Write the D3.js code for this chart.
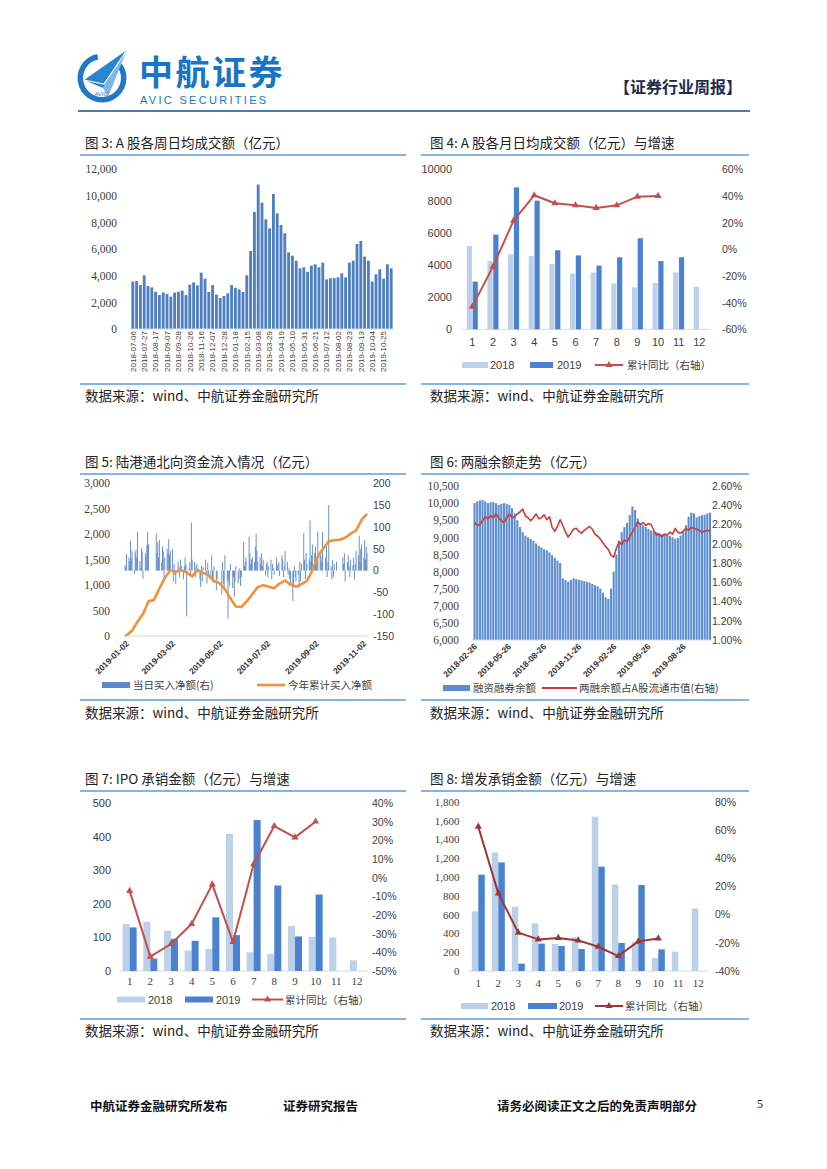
<!DOCTYPE html>
<html>
<head>
<meta charset="utf-8">
<script src="https://cdn.jsdelivr.net/npm/d3@7"></script>
<style>
  body { margin: 0; background: #fff; }
  svg { display: block; }
</style>
</head>
<body>
<svg id="page" width="827" height="1169"></svg>
<script>
// ---------- data ----------
// fig 3: weekly average daily turnover (100m yuan)
const weekLabels3 = [
  "2018-07-06","2018-07-13","2018-07-20","2018-07-27","2018-08-03","2018-08-10","2018-08-17","2018-08-24","2018-08-31",
  "2018-09-07","2018-09-14","2018-09-21","2018-09-28","2018-10-12","2018-10-19","2018-10-26","2018-11-02","2018-11-09",
  "2018-11-16","2018-11-23","2018-11-30","2018-12-07","2018-12-14","2018-12-21","2018-12-28","2019-01-04","2019-01-11",
  "2019-01-18","2019-01-25","2019-02-01","2019-02-15","2019-02-22","2019-03-01","2019-03-08","2019-03-15","2019-03-22",
  "2019-03-29","2019-04-05","2019-04-12","2019-04-19","2019-04-26","2019-05-03","2019-05-10","2019-05-17","2019-05-24",
  "2019-05-31","2019-06-07","2019-06-14","2019-06-21","2019-06-28","2019-07-05","2019-07-12","2019-07-19","2019-07-26",
  "2019-08-02","2019-08-09","2019-08-16","2019-08-23","2019-08-30","2019-09-06","2019-09-13","2019-09-20","2019-09-27",
  "2019-10-04","2019-10-11","2019-10-18","2019-10-25","2019-11-01","2019-11-08"
];
const weekTurnover = [
  3560,3600,3300,4030,3230,3130,2800,2550,2750,2630,
  2430,2730,2800,2880,2550,3330,3500,3280,4230,3780,
  2780,3300,2580,2330,2480,2680,3300,3100,2980,2780,
  4030,5860,8790,10850,9490,8240,7560,10150,8690,7810,
  7190,5760,5510,5130,4560,4640,4290,4760,4860,4640,
  4990,3730,3810,3830,3880,4180,3880,4990,5130,6390,
  6610,5440,5130,3560,4110,4490,3780,4860,4560
];

// fig 4 / 7 / 8: monthly
const months = ["1","2","3","4","5","6","7","8","9","10","11","12"];
const turn2018 = [5200,4270,4690,4580,4080,3480,3540,2870,2620,2890,3560,2660];
const turn2019 = [2980,5920,8870,8040,4940,4620,3980,4500,5690,4270,4500];
const turnYoY  = [-43,-13,21.5,40.5,34.5,33,31,33,39.5,40];

const ipo2018 = [140,147,120,61,66,409,56,51,134,102,100,32];
const ipo2019 = [130,37,96,90,160,107,450,255,103,228];
const ipoYoY  = [-7,-42.3,-35.5,-24.8,-3.5,-34.4,7.3,27.8,21.7,30.2];

const seo2018 = [634,1261,684,507,287,358,1640,921,312,138,206,666];
const seo2019 = [1024,1155,78,291,266,234,1109,298,914,230];
const seoYoY  = [62.3,15,-12.8,-17.6,-16.6,-18.3,-22.8,-29.4,-19,-16.9];

// fig 5: northbound daily net buy (weekdays 2019-01-02 .. 2019-11-08, holidays = 0)
const northDaily = [
  // Jan
  12,8,38,30,22,68,28,45,-8,42,48,30,88,22,6,52,44,-18,40,32,58,88,
  // Feb
  60,0,0,0,0,0,85,40,65,30,70,20,55,45,-20,30,50,40,72,35,
  // Mar
  45,50,-25,15,-10,-30,20,8,-15,25,12,-20,10,30,15,-105,5,20,-10,110,25,
  // Apr
  20,-15,10,15,0,-20,-38,12,-25,8,25,-10,-30,18,-12,-20,35,-15,-28,10,-45,-20,
  // May
  0,0,0,-55,20,-30,-45,35,-25,-110,-20,-35,15,-40,-15,-60,-25,10,-30,-20,5,-35,-15,
  // Jun
  65,10,20,30,0,78,40,15,25,30,20,55,85,45,20,30,15,40,10,25,
  // Jul
  -10,15,20,-15,10,25,-20,15,5,-10,30,10,15,20,-12,35,25,-15,10,45,20,-10,5,
  // Aug
  -20,-30,-70,-35,10,-15,-25,-10,-40,20,-25,15,85,25,-20,40,15,25,115,20,35,60,
  // Sep
  40,55,30,25,90,45,35,20,88,0,30,55,-15,20,150,10,-20,25,-15,15,20,
  // Oct
  0,0,0,0,0,30,15,40,-25,20,35,10,-15,25,12,30,-20,15,45,35,80,20,50,
  // Nov
  60,30,70,25,55,40
];
// cumulative net buy: 2019-01-02 then every Friday to 2019-11-08
const northCum = [
  0,20,100,280,430,680,705,930,1140,1290,1260,1290,1250,1170,1300,1240,1190,1080,
  1040,920,740,580,570,680,820,960,1000,970,940,1030,1090,1010,970,1020,1080,1290,
  1560,1720,1860,1880,1890,1930,2010,2070,2280,2400
];

// fig 6: margin balance, weekly (Fridays 2018-03-02 .. 2019-11-08)
const marginBal = [
  10000,10050,10080,10090,10050,10000,10020,10030,10000,9950,9980,
  10000,9980,9950,9850,9700,9500,9300,9150,9050,
  9000,8950,8900,8820,8750,8700,8650,8620,8560,8480,
  8400,8320,8250,7800,7750,7700,7750,7800,7780,7760,
  7740,7720,7700,7680,7640,7600,7570,7500,7380,7250,
  7200,7500,8000,8500,8900,9150,9300,9420,9650,9900,
  9800,9550,9400,9350,9300,9250,9200,9180,9150,9120,
  9100,9080,9060,9040,9000,8960,8980,9050,9150,9350,
  9600,9720,9700,9580,9620,9650,9660,9700,9720
];
const marginRatio = [
  2.22,2.19,2.20,2.24,2.28,2.26,2.29,2.27,2.31,2.27,
  2.24,2.22,2.27,2.31,2.27,2.28,2.31,2.33,2.36,2.29,
  2.27,2.24,2.27,2.31,2.26,2.27,2.30,2.25,2.28,2.17,
  2.13,2.18,2.25,2.19,2.12,2.07,2.11,2.15,2.16,2.13,
  2.11,2.14,2.16,2.18,2.15,2.10,2.08,2.05,2.01,1.97,
  1.94,1.88,1.86,1.95,2.02,1.99,2.04,2.02,2.07,2.12,
  2.17,2.23,2.20,2.22,2.19,2.21,2.20,2.14,2.09,2.10,
  2.07,2.10,2.09,2.12,2.10,2.16,2.12,2.11,2.13,2.16,
  2.14,2.17,2.16,2.15,2.14,2.12,2.13,2.14,2.13
];

// ---------- setup ----------
const CJK = '"Noto Sans CJK SC", sans-serif';
const SANS = '"Liberation Sans", Arial, sans-serif';
const SERIF = '"Liberation Serif", "Times New Roman", serif';
const TXT = "#404040";
const LIGHT = "#BDD0EA";
const DARK = "#4A82CF";
const parse = d3.timeParse("%Y-%m-%d");
const fmtDate = d3.timeFormat("%Y-%m-%d");
const tri = d3.symbol().type(d3.symbolTriangle).size(22);

const svg = d3.select("#page");
svg.append("rect").attr("width", 827).attr("height", 1169).attr("fill", "#fff");

function styleAxis(sel, font, size) {
  sel.select(".domain").remove();
  sel.selectAll("text").attr("font-family", font).attr("font-size", size).attr("fill", TXT);
}

function text(x, y, s, size, opts = {}) {
  return svg.append("text").attr("x", x).attr("y", y).text(s)
    .attr("font-family", opts.font || CJK).attr("font-size", size)
    .attr("font-weight", opts.weight || "normal")
    .attr("fill", opts.fill || "#222")
    .attr("text-anchor", opts.anchor || "start");
}

function hline(x1, x2, y, color, w) {
  svg.append("line").attr("x1", x1).attr("x2", x2).attr("y1", y).attr("y2", y)
    .attr("stroke", color).attr("stroke-width", w);
}

// ---------- header ----------
const logo = svg.append("g");
logo.append("path")
  .attr("transform", "translate(102,78)")
  .attr("d", d3.arc().innerRadius(19).outerRadius(24.5).startAngle(0.95).endAngle(2 * Math.PI - 0.2)())
  .attr("fill", "#1F78C8");
logo.append("polygon").attr("points", "84,80 127,50 103,88").attr("fill", "#2A84D2");
logo.append("polygon").attr("points", "103,88 127,50 108,97").attr("fill", "#7DB6E8");
logo.append("polyline").attr("points", "84,80 104,84 127,50").attr("fill", "none").attr("stroke", "#fff").attr("stroke-width", 1.2);
logo.append("text").attr("x", 101).attr("y", 96).text("AVIC").attr("font-family", SANS)
  .attr("font-size", 6).attr("font-style", "italic").attr("fill", "#1F78C8").attr("text-anchor", "middle");

text(139, 85, "中航证券", 34, { weight: "bold", fill: "#1A74C6" }).attr("letter-spacing", 2.5);
text(140, 104, "AVIC  SECURITIES", 11, { font: SANS, fill: "#1A74C6" }).attr("letter-spacing", 2.3);
text(742, 93, "【证券行业周报】", 16, { weight: "bold", fill: "#1E2B4F", anchor: "end" });
hline(78, 750, 111, "#5376A8", 2);

// ---------- section titles & sources ----------
const titles = [
  [85, 148, "图 3: A 股各周日均成交额（亿元）"],
  [430, 148, "图 4: A 股各月日均成交额（亿元）与增速"],
  [85, 467, "图 5: 陆港通北向资金流入情况（亿元）"],
  [430, 467, "图 6: 两融余额走势（亿元）"],
  [85, 784, "图 7: IPO 承销金额（亿元）与增速"],
  [430, 784, "图 8: 增发承销金额（亿元）与增速"]
];
titles.forEach(([x, y, s]) => {
  text(x, y, s, 13.5, { fill: "#222" });
  const x0 = x < 300 ? 80 : 421, x1 = x < 300 ? 406 : 749;
  hline(x0, x1, y + 7, "#5B9BD5", 1.6);
});
[[401, 384], [718, 700], [1036, 1019]].forEach(([ty, ly]) => {
  hline(80, 406, ly, "#5B9BD5", 1.3);
  hline(421, 749, ly, "#5B9BD5", 1.3);
  text(85, ty, "数据来源：wind、中航证券金融研究所", 13.5, { fill: "#222" });
  text(430, ty, "数据来源：wind、中航证券金融研究所", 13.5, { fill: "#222" });
});

// ---------- fig 3 ----------
{
  const x = d3.scaleBand().domain(weekLabels3).range([131, 393]).paddingInner(0.25).paddingOuter(0.1);
  const y = d3.scaleLinear().domain([0, 12000]).range([329, 169.3]);
  const g = svg.append("g");
  g.selectAll("rect").data(weekTurnover).join("rect")
    .attr("x", (d, i) => x(weekLabels3[i]))
    .attr("y", d => y(d))
    .attr("width", x.bandwidth())
    .attr("height", d => y(0) - y(d))
    .attr("fill", "#4F7FC1");
  g.append("line").attr("x1", 130).attr("x2", 394).attr("y1", y(0)).attr("y2", y(0)).attr("stroke", "#D9D9D9");
  g.append("g").attr("transform", "translate(117,0)")
    .call(d3.axisLeft(y).tickValues(d3.range(0, 12001, 2000)).tickFormat(d3.format(",")).tickSize(0).tickPadding(0))
    .call(styleAxis, SERIF, 11.5);
  g.append("g").attr("transform", "translate(0,331)")
    .call(d3.axisBottom(x).tickValues(weekLabels3.filter((d, i) => i % 3 === 0)).tickSize(0))
    .call(styleAxis, SANS, 8)
    .selectAll("text")
    .attr("x", 0).attr("y", 0).attr("dx", 0).attr("dy", "0.35em")
    .attr("text-anchor", "end")
    .attr("transform", "rotate(-90)");
}

// ---------- combo charts (fig 4, 7, 8) ----------
function combo(o) {
  const x = d3.scaleBand().domain(months).range([o.x0, o.x1]);
  const yL = d3.scaleLinear().domain(o.lDom).range([o.yB, o.yT]);
  const yR = d3.scaleLinear().domain(o.rDom).range([o.yB, o.yT]);
  const cx = i => x(months[i]) + x.bandwidth() / 2;
  const g = svg.append("g");

  g.append("line").attr("x1", o.x0).attr("x2", o.x1).attr("y1", yL(0)).attr("y2", yL(0)).attr("stroke", "#D9D9D9");
  g.append("g").selectAll("rect").data(o.a).join("rect")
    .attr("x", (d, i) => cx(i) - o.bw - o.gap / 2)
    .attr("y", d => yL(d)).attr("width", o.bw).attr("height", d => yL(0) - yL(d))
    .attr("fill", LIGHT);
  g.append("g").selectAll("rect").data(o.b).join("rect")
    .attr("x", (d, i) => cx(i) + o.gap / 2)
    .attr("y", d => yL(d)).attr("width", o.bw).attr("height", d => yL(0) - yL(d))
    .attr("fill", DARK);

  const line = d3.line().x((d, i) => cx(i)).y(d => yR(d));
  g.append("path").datum(o.yoy).attr("d", line)
    .attr("fill", "none").attr("stroke", o.lc).attr("stroke-width", 2).attr("stroke-linejoin", "round");
  g.append("g").selectAll("path").data(o.yoy).join("path")
    .attr("d", tri).attr("transform", (d, i) => `translate(${cx(i)},${yR(d)})`).attr("fill", o.lc);

  g.append("g").attr("transform", `translate(${o.lx},0)`)
    .call(d3.axisLeft(yL).tickValues(o.lTicks).tickFormat(o.lFmt).tickSize(0).tickPadding(0))
    .call(styleAxis, o.lFont, 11);
  g.append("g").attr("transform", `translate(${o.rx},0)`)
    .call(d3.axisRight(yR).tickValues(o.rTicks).tickFormat(d => d + "%").tickSize(0).tickPadding(0))
    .call(styleAxis, SANS, 10.5);
  g.append("g").attr("transform", `translate(0,${o.yB})`)
    .call(d3.axisBottom(x).tickSize(0).tickPadding(o.mPad))
    .call(styleAxis, o.mFont, 11);

  const L = o.leg;
  g.append("rect").attr("x", L.s1[0]).attr("y", L.y - 3).attr("width", L.s1[1] - L.s1[0]).attr("height", 6).attr("fill", LIGHT);
  g.append("rect").attr("x", L.s2[0]).attr("y", L.y - 3).attr("width", L.s2[1] - L.s2[0]).attr("height", 6).attr("fill", DARK);
  g.append("line").attr("x1", L.l[0]).attr("x2", L.l[1]).attr("y1", L.y).attr("y2", L.y).attr("stroke", o.lc).attr("stroke-width", 2);
  g.append("path").attr("d", tri).attr("transform", `translate(${(L.l[0] + L.l[1]) / 2},${L.y})`).attr("fill", o.lc);
  [[L.t1, "2018", SANS], [L.t2, "2019", SANS], [L.t3, "累计同比（右轴）", CJK]].forEach(([tx, s, f]) => {
    g.append("text").attr("x", tx).attr("y", L.y + 4).text(s)
      .attr("font-family", f).attr("font-size", f === SANS ? 11 : 10.5).attr("fill", TXT);
  });
}

combo({
  x0: 462, x1: 709.6, yT: 169.3, yB: 329.3, lDom: [0, 10000], rDom: [-60, 60],
  a: turn2018, b: turn2019, yoy: turnYoY, lc: "#C0504D", bw: 5.2, gap: 0.6,
  lx: 452, lTicks: d3.range(0, 10001, 2000), lFmt: d3.format("d"), lFont: SANS,
  rx: 722, rTicks: d3.range(-60, 61, 20), mPad: 8.5, mFont: SANS,
  leg: { y: 365, s1: [462, 488], t1: 490, s2: [530, 553], t2: 557, l: [595, 623], t3: 627 }
});
combo({
  x0: 119.3, x1: 367.3, yT: 803.3, yB: 971, lDom: [0, 500], rDom: [-50, 40],
  a: ipo2018, b: ipo2019, yoy: ipoYoY, lc: "#C0504D", bw: 7, gap: 0,
  lx: 111, lTicks: d3.range(0, 501, 100), lFmt: d3.format("d"), lFont: SANS,
  rx: 372, rTicks: d3.range(-50, 41, 10), mPad: 6.5, mFont: SERIF,
  leg: { y: 999.5, s1: [117, 145], t1: 148, s2: [185, 213], t2: 216, l: [252, 283], t3: 285 }
});
combo({
  x0: 468.3, x1: 708.3, yT: 801.7, yB: 971, lDom: [0, 1800], rDom: [-40, 80],
  a: seo2018, b: seo2019, yoy: seoYoY, lc: "#9E3535", bw: 6.5, gap: 0,
  lx: 459.5, lTicks: d3.range(0, 1801, 200), lFmt: d3.format(","), lFont: SERIF,
  rx: 715, rTicks: d3.range(-40, 81, 20), mPad: 8, mFont: SERIF,
  leg: { y: 1006, s1: [461, 488], t1: 491, s2: [528, 557], t2: 559, l: [595, 623], t3: 625 }
});

// ---------- fig 5 ----------
{
  const days = d3.timeDay.range(parse("2019-01-02"), parse("2019-11-09"))
    .filter(d => d.getDay() > 0 && d.getDay() < 6);
  const cumDates = [parse("2019-01-02")].concat(d3.timeFriday.range(parse("2019-01-04"), parse("2019-11-09")));
  const x = d3.scaleTime().domain([parse("2019-01-02"), parse("2019-11-08")]).range([125, 367]);
  const yL = d3.scaleLinear().domain([0, 3000]).range([636, 483.3]);
  const yR = d3.scaleLinear().domain([-150, 200]).range([636, 483.3]);
  const g = svg.append("g");
  g.append("line").attr("x1", 125).attr("x2", 367).attr("y1", 636).attr("y2", 636).attr("stroke", "#D9D9D9");
  g.append("g").selectAll("rect").data(northDaily.slice(0, days.length)).join("rect")
    .attr("x", (d, i) => x(days[i]) - 0.45)
    .attr("y", d => Math.min(yR(d), yR(0)))
    .attr("width", 0.9)
    .attr("height", d => Math.abs(yR(d) - yR(0)))
    .attr("fill", "#5A87C6");
  g.append("path").datum(northCum.slice(0, cumDates.length))
    .attr("d", d3.line().x((d, i) => x(cumDates[i])).y(d => yL(d)))
    .attr("fill", "none").attr("stroke", "#F0913F").attr("stroke-width", 2.6).attr("stroke-linejoin", "round");
  g.append("g").attr("transform", "translate(110,0)")
    .call(d3.axisLeft(yL).tickValues(d3.range(0, 3001, 500)).tickFormat(d3.format(",")).tickSize(0).tickPadding(0))
    .call(styleAxis, SERIF, 11.5);
  g.append("g").attr("transform", "translate(373,0)")
    .call(d3.axisRight(yR).tickValues(d3.range(-150, 201, 50)).tickFormat(d => String(d)).tickSize(0).tickPadding(0))
    .call(styleAxis, SANS, 10.5);
  const ticks = ["2019-01-02", "2019-03-02", "2019-05-02", "2019-07-02", "2019-09-02", "2019-11-02"].map(parse);
  g.append("g").attr("transform", "translate(0,640)")
    .call(d3.axisBottom(x).tickValues(ticks).tickFormat(fmtDate).tickSize(0))
    .call(styleAxis, SANS, 8.5)
    .selectAll("text")
    .attr("x", 0).attr("y", 0).attr("dx", 0).attr("dy", "0.35em")
    .attr("text-anchor", "end").attr("font-weight", "bold").attr("fill", "#333")
    .attr("transform", "translate(2,2) rotate(-45)");
  g.append("rect").attr("x", 102).attr("y", 682).attr("width", 28).attr("height", 6).attr("fill", "#5A87C6");
  g.append("text").attr("x", 133).attr("y", 689).text("当日买入净额(右)").attr("font-family", CJK).attr("font-size", 10.5).attr("fill", TXT);
  g.append("line").attr("x1", 257).attr("x2", 285).attr("y1", 685).attr("y2", 685).attr("stroke", "#F0913F").attr("stroke-width", 2.6);
  g.append("text").attr("x", 288).attr("y", 689).text("今年累计买入净额").attr("font-family", CJK).attr("font-size", 10.5).attr("fill", TXT);
}

// ---------- fig 6 ----------
{
  const weeks = d3.timeFriday.range(parse("2018-03-02"), parse("2019-11-09"));
  const x = d3.scaleTime().domain([parse("2018-02-26"), parse("2019-11-08")]).range([473, 710]);
  const yL = d3.scaleLinear().domain([6000, 10500]).range([640, 486]);
  const yR = d3.scaleLinear().domain([1.0, 2.6]).range([640, 486]);
  const step = x(weeks[1]) - x(weeks[0]);
  const g = svg.append("g");
  g.append("g").selectAll("rect").data(marginBal.slice(0, weeks.length)).join("rect")
    .attr("x", (d, i) => x(weeks[i]) - step / 2 + 0.3)
    .attr("y", d => yL(d))
    .attr("width", step - 0.6)
    .attr("height", d => yL(6000) - yL(d))
    .attr("fill", "#5B8DD0");
  g.append("line").attr("x1", 472).attr("x2", 711).attr("y1", 640).attr("y2", 640).attr("stroke", "#D9D9D9");
  g.append("path").datum(marginRatio.slice(0, weeks.length))
    .attr("d", d3.line().x((d, i) => x(weeks[i])).y(d => yR(d)))
    .attr("fill", "none").attr("stroke", "#CC3B3B").attr("stroke-width", 1.6).attr("stroke-linejoin", "round");
  g.append("g").attr("transform", "translate(459,0)")
    .call(d3.axisLeft(yL).tickValues(d3.range(6000, 10501, 500)).tickFormat(d3.format(",")).tickSize(0).tickPadding(0))
    .call(styleAxis, SERIF, 11.5);
  g.append("g").attr("transform", "translate(712,0)")
    .call(d3.axisRight(yR).tickValues(d3.range(0, 9).map(k => 1 + k * 0.2)).tickFormat(d => d3.format(".2f")(d) + "%").tickSize(0).tickPadding(0))
    .call(styleAxis, SANS, 10.5);
  const ticks = d3.range(7).map(k => d3.timeMonth.offset(parse("2018-02-26"), 3 * k));
  g.append("g").attr("transform", "translate(0,643)")
    .call(d3.axisBottom(x).tickValues(ticks).tickFormat(fmtDate).tickSize(0))
    .call(styleAxis, SANS, 8.5)
    .selectAll("text")
    .attr("x", 0).attr("y", 0).attr("dx", 0).attr("dy", "0.35em")
    .attr("text-anchor", "end").attr("font-weight", "bold").attr("fill", "#333")
    .attr("transform", "translate(2,2) rotate(-45)");
  g.append("rect").attr("x", 443).attr("y", 685).attr("width", 27).attr("height", 6).attr("fill", "#5B8DD0");
  g.append("text").attr("x", 473).attr("y", 692).text("融资融券余额").attr("font-family", CJK).attr("font-size", 10.5).attr("fill", TXT);
  g.append("line").attr("x1", 542).attr("x2", 577).attr("y1", 688).attr("y2", 688).attr("stroke", "#CC3B3B").attr("stroke-width", 1.8);
  g.append("text").attr("x", 579).attr("y", 692).text("两融余额占A股流通市值(右轴)").attr("font-family", CJK).attr("font-size", 10.5).attr("fill", TXT);
}

// ---------- footer ----------
text(90, 1111, "中航证券金融研究所发布", 12.5, { weight: "bold", fill: "#111" });
text(283, 1111, "证券研究报告", 12.5, { weight: "bold", fill: "#111" });
text(497, 1111, "请务必阅读正文之后的免责声明部分", 12.5, { weight: "bold", fill: "#111" });
text(757, 1108, "5", 12, { font: SERIF, fill: "#111" });
</script>
</body>
</html>
